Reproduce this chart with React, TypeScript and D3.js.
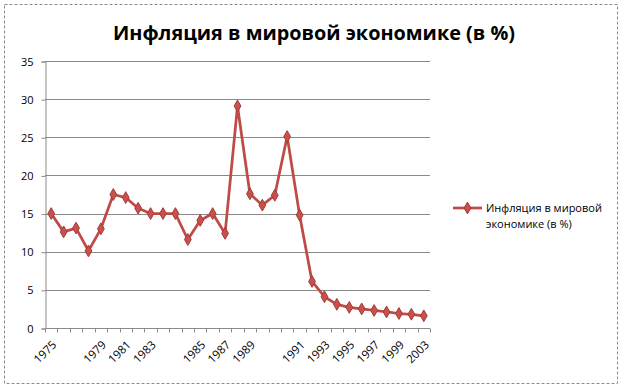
import React, { useEffect, useRef } from 'react';
import * as d3 from 'd3';

// categories as they sit on the axis (only every second label is printed)
const years = [
  '1975', '1976', '', '1978', '1979', '1980', '1981', '1982', '1983', '1984',
  '', '1984', '1985', '1986', '1987', '1988', '1989', '1990', '', '1990',
  '1991', '1992', '1993', '1994', '1995', '1996', '1997', '1998', '1999', '2001',
  '2003',
];

const inflation = [
  15, 12.6, 13.1, 10.1, 13, 17.5, 17.1, 15.7, 15, 15,
  15, 11.6, 14.1, 15, 12.4, 29.1, 17.6, 16.1, 17.4, 25.1,
  14.8, 6.1, 4.1, 3.1, 2.7, 2.5, 2.3, 2.1, 1.9, 1.8,
  1.6,
];

const yTicks = [0, 5, 10, 15, 20, 25, 30, 35];

const title = 'Инфляция в мировой экономике (в %)';
const seriesName = ['Инфляция в мировой', 'экономике (в %)'];

const W = 624;
const H = 392;
const FONT = "'Open Sans', 'Noto Sans', 'DejaVu Sans', sans-serif";

const InflationChart: React.FC = () => {
  const svgRef = useRef<SVGSVGElement>(null);

  useEffect(() => {
    const svg = d3.select(svgRef.current);
    svg.selectAll('*').remove();

    svg.attr('width', W).attr('height', H);

    svg.append('rect')
      .attr('width', W).attr('height', H)
      .attr('fill', '#ffffff');

    // outer dashed frame
    svg.append('rect')
      .attr('x', 4.5).attr('y', 4.5)
      .attr('width', 613).attr('height', 379)
      .attr('fill', 'none')
      .attr('stroke', '#8c8c8c')
      .attr('stroke-dasharray', '3,2');

    // title
    svg.append('text')
      .attr('x', 314).attr('y', 40)
      .attr('text-anchor', 'middle')
      .attr('font-family', FONT)
      .attr('font-weight', 'bold')
      .attr('font-size', 19)
      .attr('textLength', 402)
      .attr('lengthAdjust', 'spacingAndGlyphs')
      .attr('fill', '#000')
      .text(title);

    const left = 45, right = 430, top = 61, bottom = 328;

    const x = d3.scaleBand<number>()
      .domain(d3.range(years.length))
      .range([left, right]);

    const y = d3.scaleLinear()
      .domain([0, 35])
      .range([bottom, top]);

    // gridlines
    svg.append('g')
      .selectAll('line')
      .data(yTicks.filter(t => t > 0))
      .join('line')
      .attr('x1', left).attr('x2', right)
      .attr('y1', d => Math.round(y(d)) + 0.5)
      .attr('y2', d => Math.round(y(d)) + 0.5)
      .attr('stroke', '#8a8a8a')
      .attr('stroke-width', 1);

    // y axis
    const yAxis = svg.append('g')
      .attr('transform', `translate(${left + 0.5},0.5)`)
      .call(d3.axisLeft(y).tickValues(yTicks).tickSize(4).tickPadding(8));
    yAxis.select('.domain').attr('stroke', '#8a8a8a');
    yAxis.selectAll('.tick line').attr('stroke', '#8a8a8a');
    yAxis.selectAll('.tick text')
      .attr('font-family', FONT)
      .attr('font-size', 11)
      .attr('fill', '#000');

    // x axis: ticks on category boundaries
    const xAxis = svg.append('g')
      .attr('transform', `translate(0,${Math.round(bottom) + 0.5})`);
    xAxis.append('line')
      .attr('x1', left).attr('x2', right)
      .attr('stroke', '#8a8a8a');
    xAxis.selectAll('line.tk')
      .data(d3.range(years.length + 1))
      .join('line')
      .attr('class', 'tk')
      .attr('x1', i => Math.round(left + i * x.step()) + 0.5)
      .attr('x2', i => Math.round(left + i * x.step()) + 0.5)
      .attr('y1', 0).attr('y2', 4)
      .attr('stroke', '#8a8a8a');
    xAxis.selectAll('text')
      .data(d3.range(0, years.length, 2))
      .join('text')
      .attr('transform', i => `translate(${x(i)! + x.bandwidth() / 2 + 6},${17}) rotate(-45)`)
      .attr('text-anchor', 'end')
      .attr('font-family', FONT)
      .attr('font-size', 11.5)
      .attr('fill', '#000')
      .text(i => years[i]);

    // series
    const px = (i: number) => x(i)! + x.bandwidth() / 2;
    const line = d3.line<number>()
      .x((_, i) => px(i))
      .y(d => y(d));

    svg.append('path')
      .datum(inflation)
      .attr('d', line)
      .attr('fill', 'none')
      .attr('stroke', '#be4b48')
      .attr('stroke-width', 2.75)
      .attr('stroke-linejoin', 'round');

    const diamond = d3.symbol().type(d3.symbolDiamond).size(40);
    svg.append('g')
      .selectAll('path')
      .data(inflation)
      .join('path')
      .attr('d', diamond)
      .attr('transform', (d, i) => `translate(${px(i)},${y(d)})`)
      .attr('fill', '#c8504d')
      .attr('stroke', '#a33c39')
      .attr('stroke-width', 1);

    // legend
    const lg = svg.append('g');
    lg.append('line')
      .attr('x1', 453).attr('x2', 482)
      .attr('y1', 208).attr('y2', 208)
      .attr('stroke', '#be4b48')
      .attr('stroke-width', 2.75);
    lg.append('path')
      .attr('d', diamond)
      .attr('transform', 'translate(467.5,208)')
      .attr('fill', '#c8504d')
      .attr('stroke', '#a33c39');
    lg.selectAll('text')
      .data(seriesName)
      .join('text')
      .attr('x', 486)
      .attr('y', (_, i) => 212 + i * 16)
      .attr('font-family', FONT)
      .attr('font-size', 11)
      .attr('fill', '#000')
      .text(d => d);
  }, []);

  return <svg ref={svgRef} style={{ display: 'block' }}></svg>;
};

export default function App() {
  return (
    <>
      <style>{'body{margin:0}'}</style>
      <InflationChart />
    </>
  );
}
